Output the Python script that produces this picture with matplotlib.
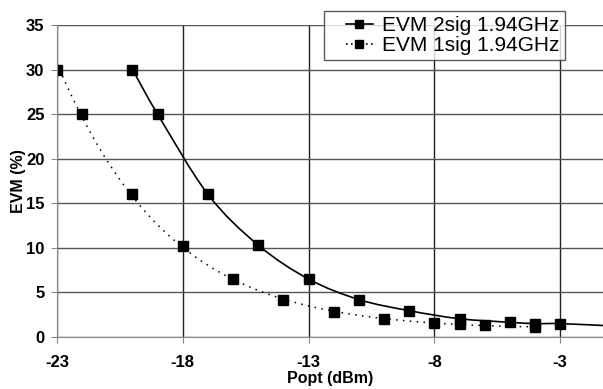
# EVM vs optical power, two test signals
import numpy as np
import matplotlib.pyplot as plt
from matplotlib.lines import Line2D
from matplotlib.path import Path
from matplotlib.patches import PathPatch
from matplotlib.legend_handler import HandlerLine2D

plt.rcParams['font.family'] = ['Liberation Sans', 'DejaVu Sans']
plt.rcParams['axes.unicode_minus'] = False

# Data (last 2sig point sits just past the cropped edge)
popt_2sig = np.array([-20, -19, -17, -15, -13, -11, -9, -7, -5, -4, -3, -1])
evm_2sig = np.array([30.0, 25.0, 16.0, 10.3, 6.5, 4.2, 2.95, 2.05, 1.65, 1.5, 1.5, 1.25])

popt_1sig = np.array([-23, -22, -20, -18, -16, -14, -12, -10, -8, -7, -6, -4])
evm_1sig = np.array([30.0, 25.0, 16.0, 10.2, 6.5, 4.15, 2.85, 2.0, 1.55, 1.5, 1.3, 1.1])

labels = ['EVM 2sig 1.94GHz', 'EVM 1sig 1.94GHz']
xticks = [-23, -18, -13, -8, -3]
x_max = -1.3


def smooth_path(x, y):
    # Excel-style smoothed line: Bezier segments with Catmull-Rom tangents
    pts = np.column_stack([x, y]).astype(float)
    n = len(pts)
    tang = np.zeros_like(pts)
    tang[1:-1] = (pts[2:] - pts[:-2]) / 2
    tang[0] = pts[1] - pts[0]
    tang[-1] = pts[-1] - pts[-2]
    verts = [pts[0]]
    codes = [Path.MOVETO]
    for i in range(n - 1):
        verts += [pts[i] + tang[i] / 3, pts[i + 1] - tang[i + 1] / 3, pts[i + 1]]
        codes += [Path.CURVE4] * 3
    return Path(verts, codes)


# dotted series drawn as a log-space trend curve
fit1 = np.polyfit(popt_1sig, np.log(evm_1sig), 3)
xs1 = np.linspace(popt_1sig.min(), popt_1sig.max(), 200)

fig = plt.figure(figsize=(6.03, 3.89), dpi=100)
ax = fig.add_axes([0.0945, 0.1337, 0.9055, 0.802])

ax.add_patch(PathPatch(smooth_path(popt_2sig, evm_2sig), fill=False,
                       edgecolor='black', lw=1.2))
ax.plot(xs1, np.exp(np.polyval(fit1, xs1)), color='black', lw=1.1, ls=(0, (1, 3.5)))
ax.plot(popt_2sig, evm_2sig, ls='none', marker='s', ms=7.5, color='black')
ax.plot(popt_1sig, evm_1sig, ls='none', marker='s', ms=7.5, color='black')

ax.set_xlim(-23, x_max)
ax.set_ylim(0, 35)
ax.set_xticks(xticks)
ax.set_yticks(range(0, 36, 5))
ax.grid(axis='y', color='#555555', lw=1)
ax.grid(axis='x', color='#222222', lw=1)
ax.set_axisbelow(True)
for s in ['top', 'right']:
    ax.spines[s].set_visible(False)
for s in ['left', 'bottom']:
    ax.spines[s].set_color('#888888')
ax.tick_params(direction='out', length=4, color='#888888', labelsize=12)
ax.tick_params(axis='x', pad=9)
ax.tick_params(axis='y', pad=5)
for t in ax.get_xticklabels() + ax.get_yticklabels():
    t.set_fontweight('bold')

ax.set_xlabel('Popt (dBm)', fontsize=11.5, fontweight='bold', labelpad=1)
ax.set_ylabel('EVM (%)', fontsize=11.5, fontweight='bold', labelpad=0)

handles = [Line2D([], [], color='black', lw=1.2, marker='s', ms=6),
           Line2D([], [], color='black', lw=1.2, ls=(0, (1, 2)), marker='s', ms=6)]
leg = fig.legend(handles, labels, loc='upper left', bbox_to_anchor=(0.537, 0.972),
                 borderaxespad=0, fontsize=15, frameon=True, fancybox=False,
                 edgecolor='#333333', handlelength=2.1, handletextpad=0.45,
                 borderpad=0.25, labelspacing=0.05,
                 handler_map={Line2D: HandlerLine2D(xpad=0.8)})
leg.get_frame().set_linewidth(1)

fig.savefig('out.png', dpi=100)
